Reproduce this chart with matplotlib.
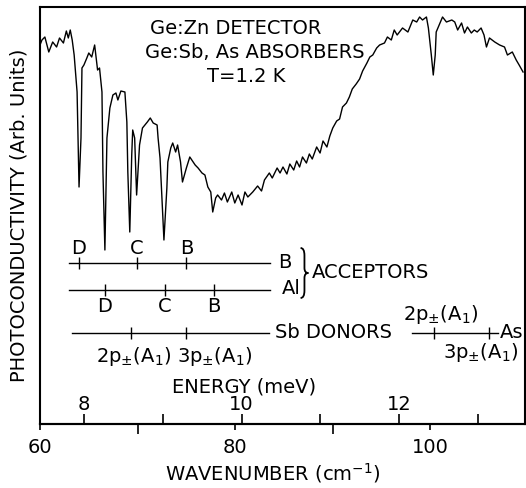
import matplotlib
matplotlib.use("Agg")
import matplotlib.pyplot as plt
import matplotlib.ticker as ticker
from matplotlib.path import Path
from matplotlib.patches import PathPatch

# Ge:Zn photoconductivity spectrum
wavenumber = [
    60.0, 60.2, 60.5, 60.9, 61.3, 61.7, 62.0, 62.4, 62.7, 62.9, 63.1, 63.3,
    63.5, 63.8, 64.0, 64.2, 64.3, 64.5, 64.8, 65.0, 65.3, 65.6, 65.8, 65.9,
    66.1, 66.35, 66.45, 66.65, 66.86, 67.16, 67.47, 67.78, 67.98, 68.29,
    68.7, 68.9, 69.0, 69.2, 69.4, 69.5, 69.7, 69.9, 70.2, 70.5, 71.0, 71.3,
    71.6, 72.0, 72.1, 72.3, 72.5, 72.7, 73.0, 73.1, 73.4, 73.6, 73.9, 74.1,
    74.4, 74.6, 75.0, 75.35, 75.7, 75.9, 76.2, 76.6, 76.9, 77.2, 77.5, 77.7,
    78.0, 78.2, 78.6, 78.9, 79.2, 79.65, 79.96, 80.3, 80.7, 81.0, 81.3,
    81.8, 82.3, 82.7, 83.0, 83.5, 83.8, 84.3, 84.6, 84.9, 85.3, 85.6, 86.0,
    86.3, 86.6, 86.9, 87.3, 87.6, 87.9, 88.35, 88.7, 89.0, 89.4, 89.7, 90.0,
    90.4, 90.7, 91.0, 91.4, 91.7, 92.0, 92.4, 92.75, 93.06, 93.5, 93.8,
    94.1, 94.5, 94.8, 95.3, 95.6, 96.0, 96.3, 96.6, 97.15, 97.7, 98.2, 98.6,
    98.9, 99.2, 99.6, 99.8, 100.1, 100.3, 100.5, 100.6, 100.9, 101.25,
    101.65, 102.2, 102.5, 102.8, 103.2, 103.5, 103.8, 104.2, 104.5, 104.8,
    105.2, 105.5, 105.75, 106.06, 106.6, 107.1, 107.6, 107.9, 108.4, 108.8,
    109.1, 109.5,
]
photoconductivity = [
    379, 384, 387, 372, 382, 377, 386, 381, 393, 386, 394, 384,
    369, 332, 237, 286, 356, 359, 366, 371, 367, 379, 362, 354,
    356, 332, 252, 174, 286, 316, 329, 331, 324, 333,
    332, 302, 252, 192, 269, 294, 286, 229, 279, 296, 302, 306,
    301, 299, 286, 266, 226, 184, 236, 262, 276, 281, 272, 279,
    262, 242, 256, 267, 262, 259, 256, 251, 249, 237, 232, 212,
    226, 229, 224, 231, 222, 232, 221, 229, 219, 232, 227,
    232, 238, 233, 244, 251, 246, 256, 251, 257, 250, 260, 254,
    263, 257, 267, 261, 270, 265, 277, 271, 283, 277, 288, 296,
    303, 305, 317, 321, 327, 335, 340, 345, 353, 361, 367,
    369, 376, 379, 381, 387, 384, 394, 389, 396, 392, 404, 402,
    407, 404, 407, 396, 369, 349, 369, 392, 399, 407,
    402, 404, 402, 394, 401, 391, 397, 391, 394, 392,
    396, 389, 377, 386, 382, 379, 377, 369, 372, 364,
    359, 352,
]

# impurity line positions (cm-1)
b_acceptor_names = ["D", "C", "B"]
b_acceptor_lines = [64.0, 69.9, 75.0]
al_acceptor_names = ["D", "C", "B"]
al_acceptor_lines = [66.65, 72.8, 77.8]
donor_names = [r"2p$_{\pm}$(A$_1$)", r"3p$_{\pm}$(A$_1$)"]
sb_donor_lines = [69.3, 75.0]
as_donor_lines = [100.4, 106.06]

energy_major = [8, 10, 12]
energy_minor = [9, 11, 13]
MEV_TO_CM = 8.0655

FS = 14

fig = plt.figure(figsize=(5.26, 4.88), dpi=100)
ax = fig.add_axes([40 / 526, 1 - 424 / 488, 485 / 526, 417 / 488])

ax.plot(wavenumber, photoconductivity, color="black", linewidth=1.0)
ax.set_xlim(60, 109.7)
ax.set_ylim(0, 417)

for spine in ax.spines.values():
    spine.set_linewidth(1.5)

# wavenumber axis
ax.set_xticks([60, 80, 100])
ax.xaxis.set_minor_locator(ticker.FixedLocator([70, 90]))
ax.tick_params(axis="x", which="major", direction="out", length=4,
               width=1.2, pad=6, labelsize=FS)
ax.tick_params(axis="x", which="minor", direction="out", length=7,
               width=1.2)
ax.set_yticks([])
ax.set_xlabel(r"WAVENUMBER (cm$^{-1}$)", fontsize=FS)
ax.xaxis.set_label_coords(0.48, -0.088)
ax.set_ylabel("PHOTOCONDUCTIVITY (Arb. Units)", fontsize=FS, labelpad=8)

# energy scale drawn on the same baseline, ticks pointing up
secax = ax.secondary_xaxis(0, functions=(lambda x: x / MEV_TO_CM,
                                         lambda e: e * MEV_TO_CM))
secax.set_alignment("top")
secax.set_xticks(energy_major)
secax.xaxis.set_minor_locator(ticker.FixedLocator(energy_minor))
secax.tick_params(which="both", direction="out", length=7, width=1.2,
                  pad=0, labelsize=FS)
secax.spines["top"].set_linewidth(1.5)
ax.text(0.42, 0.089, "ENERGY (meV)", transform=ax.transAxes,
        fontsize=FS, ha="center", va="center")

# sample description
ax.text(71.26, 396, "Ge:Zn DETECTOR", fontsize=FS, va="center")
ax.text(70.75, 372, "Ge:Sb, As ABSORBERS", fontsize=FS, va="center")
ax.text(77.1, 347, "T=1.2 K", fontsize=FS, va="center")

# acceptor markers
ax.plot([62.97, 83.6], [161, 161], color="black", linewidth=1.0)
ax.plot(b_acceptor_lines, [161] * len(b_acceptor_lines), linestyle="none",
        marker="|", markersize=8, color="black")
for name, x in zip(b_acceptor_names, b_acceptor_lines):
    ax.text(x, 175, name, fontsize=FS, ha="center", va="center")
ax.text(85.1, 161, "B", fontsize=FS, ha="center", va="center")

ax.plot([62.97, 83.6], [134, 134], color="black", linewidth=1.0)
ax.plot(al_acceptor_lines, [134] * len(al_acceptor_lines), linestyle="none",
        marker="|", markersize=8, color="black")
for name, x in zip(al_acceptor_names, al_acceptor_lines):
    ax.text(x, 118, name, fontsize=FS, ha="center", va="center")
ax.text(85.7, 136, "Al", fontsize=FS, ha="center", va="center")

# curly brace grouping the two acceptor rows
bx0, bx1, byt, byb = 86.7, 87.5, 176, 126
bxm = (bx0 + bx1) / 2
bym = (byt + byb) / 2
h = byt - byb
brace = Path(
    [(bx0, byt), (bxm, byt), (bxm, byt - 0.15 * h),
     (bxm, bym + 0.1 * h), (bxm, bym), (bx1, bym),
     (bxm, bym), (bxm, bym - 0.1 * h),
     (bxm, byb + 0.15 * h), (bxm, byb), (bx0, byb)],
    [Path.MOVETO, Path.CURVE3, Path.CURVE3,
     Path.LINETO, Path.CURVE3, Path.CURVE3,
     Path.CURVE3, Path.CURVE3,
     Path.LINETO, Path.CURVE3, Path.CURVE3])
ax.add_patch(PathPatch(brace, facecolor="none", edgecolor="black",
                       linewidth=1.3))
ax.text(87.9, 152, "ACCEPTORS", fontsize=FS, va="center")

# donor markers
ax.plot([63.3, 83.5], [91, 91], color="black", linewidth=1.0)
ax.plot(sb_donor_lines, [91] * len(sb_donor_lines), linestyle="none",
        marker="|", markersize=8, color="black")
ax.text(sb_donor_lines[0] + 0.3, 68, donor_names[0], fontsize=FS,
        ha="center", va="center")
ax.text(sb_donor_lines[1] + 2.9, 68, donor_names[1], fontsize=FS,
        ha="center", va="center")
ax.text(84.05, 91, "Sb DONORS", fontsize=FS, va="center")

ax.plot([98.1, 106.9], [91, 91], color="black", linewidth=1.0)
ax.plot(as_donor_lines, [91] * len(as_donor_lines), linestyle="none",
        marker="|", markersize=8, color="black")
ax.text(as_donor_lines[0] + 0.7, 109, donor_names[0], fontsize=FS,
        ha="center", va="center")
ax.text(as_donor_lines[1] - 0.9, 72, donor_names[1], fontsize=FS,
        ha="center", va="center")
ax.text(107.1, 91, "As", fontsize=FS, va="center")

fig.savefig("out.png", dpi=100)
